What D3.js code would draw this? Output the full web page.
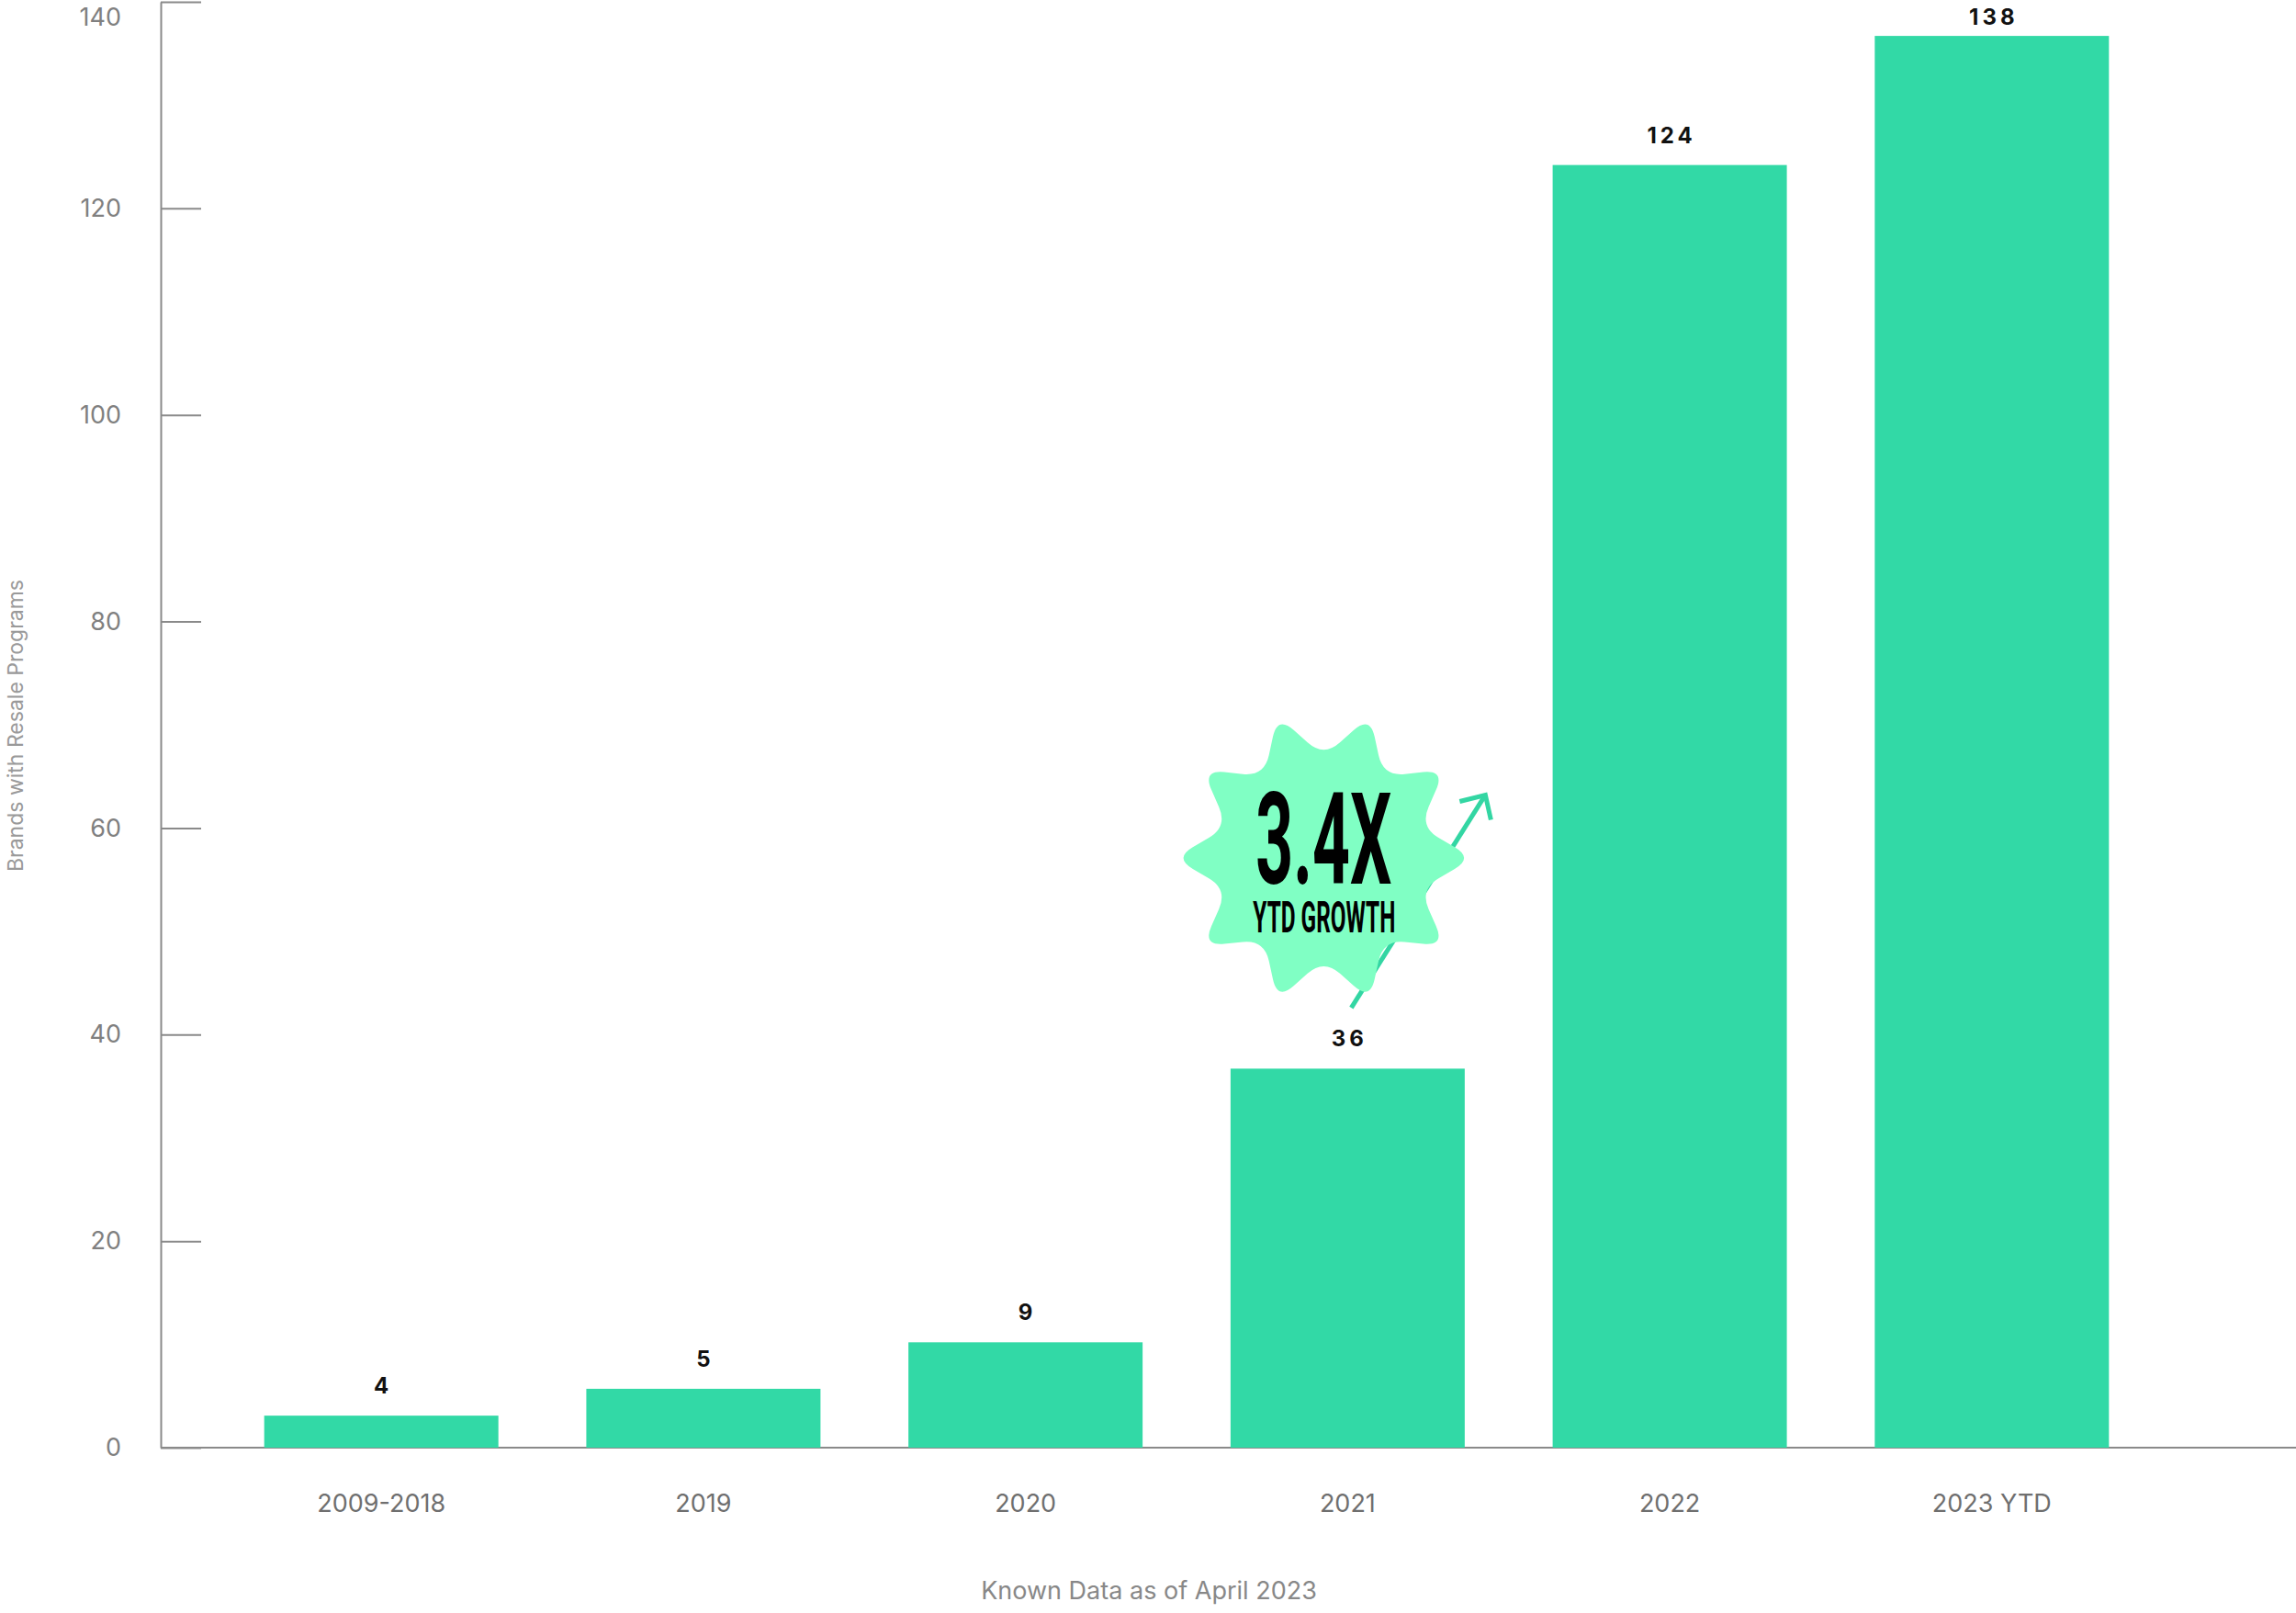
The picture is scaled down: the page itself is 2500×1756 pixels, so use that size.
<!DOCTYPE html>
<html>
<head>
<meta charset="utf-8">
<script src="https://d3js.org/d3.v7.min.js"></script>
<style>
	body { margin: 0; background: #fff; }
	.chart text { font-family: Inter, "Noto Sans", sans-serif; }
</style>
</head>
<body>
<div class="chart"></div>
<script>
var WIDTH = 2500,
	HEIGHT = 1756;

// categories and values
var categories = ["2009-2018", "2019", "2020", "2021", "2022", "2023 YTD"];
var valueLabels = ["4", "5", "9", "36", "124", "138"];
// bar heights as drawn in the picture (they differ slightly from the labels)
var barHeights = [3.1, 5.7, 10.2, 36.7, 124.2, 136.7];
var yTicks = [0, 20, 40, 60, 80, 100, 120, 140];

var BAR_COLOR = "#32d9a6",
	BADGE_COLOR = "#80ffc4",
	AXIS_COLOR = "#8a8a8a";

var xScale, yScale, svg;

var generateAxes = function() {
	xScale = d3.scaleBand()
		.domain(categories)
		.range([200, 2384])
		.paddingInner(0.273)
		.paddingOuter(0.25);

	yScale = d3.scaleLinear()
		.domain([0, 140])
		.range([1576, 2]);

	var yAxis = d3.axisLeft()
		.scale(yScale)
		.tickValues(yTicks)
		.tickSizeInner(-44)
		.tickSizeOuter(0)
		.tickPadding(43);

	var yAxisGroup = svg.append("g")
		.attr("class", "yAxis")
		.attr("transform", "translate(175,0)")
		.call(yAxis);

	yAxisGroup.selectAll("path, line")
		.attr("stroke", AXIS_COLOR)
		.attr("stroke-width", 2);
	yAxisGroup.selectAll("text")
		.attr("fill", "#808080")
		.style("font-size", "27px")
		.attr("dy", function(d) { return yScale(d) < 20 ? "0.95em" : "0.32em"; });

	var xAxis = d3.axisBottom()
		.scale(xScale)
		.tickSize(0)
		.tickPadding(51);

	var xAxisGroup = svg.append("g")
		.attr("class", "xAxis")
		.attr("transform", "translate(0," + yScale(0) + ")")
		.call(xAxis);

	xAxisGroup.select(".domain").remove();
	xAxisGroup.selectAll("text")
		.attr("fill", "#6f6f6f")
		.style("font-size", "27px");

	// baseline runs from the y axis to the right edge
	svg.append("line")
		.attr("x1", 175)
		.attr("x2", WIDTH)
		.attr("y1", yScale(0))
		.attr("y2", yScale(0))
		.attr("stroke", AXIS_COLOR)
		.attr("stroke-width", 2);

	svg.append("text")
		.attr("transform", "translate(25,790) rotate(-90)")
		.attr("text-anchor", "middle")
		.attr("fill", "#9a9a9a")
		.style("font-size", "23px")
		.text("Brands with Resale Programs");

	svg.append("text")
		.attr("x", 1251)
		.attr("y", 1741)
		.attr("text-anchor", "middle")
		.attr("fill", "#888888")
		.style("font-size", "27px")
		.text("Known Data as of April 2023");
}

var generateBars = function() {
	var bars = svg.append("g").attr("class", "bars");

	bars.selectAll("rect")
		.data(categories)
		.enter()
		.append("rect")
		.attr("x", function(d) { return xScale(d); })
		.attr("y", function(d, i) { return yScale(barHeights[i]); })
		.attr("width", xScale.bandwidth())
		.attr("height", function(d, i) { return yScale(0) - yScale(barHeights[i]); })
		.attr("fill", BAR_COLOR);

	// value labels, kept inside the top edge for the tallest bar
	bars.selectAll("text")
		.data(categories)
		.enter()
		.append("text")
		.attr("x", function(d) { return xScale(d) + xScale.bandwidth() / 2 + 2; })
		.attr("y", function(d, i) { return Math.max(yScale(barHeights[i]) - 24, 27); })
		.attr("text-anchor", "middle")
		.attr("fill", "#111")
		.style("font-size", "24px")
		.style("font-weight", 700)
		.style("letter-spacing", "4px")
		.text(function(d, i) { return valueLabels[i]; });

	// axis line sits on top of the bars
	svg.select(".yAxis").raise();
}

// star polygon with rounded corners
var roundedStar = function(points, rOuter, rInner, t) {
	var v = [];
	for (var i = 0; i < points * 2; i++) {
		var a = i * Math.PI / points;
		var r = i % 2 ? rOuter : rInner;
		v.push([r * Math.sin(a), -r * Math.cos(a)]);
	}
	var p = d3.path();
	var n = v.length;
	for (var j = 0; j < n; j++) {
		var prev = v[(j - 1 + n) % n], cur = v[j], next = v[(j + 1) % n];
		var ax = cur[0] + (prev[0] - cur[0]) * t, ay = cur[1] + (prev[1] - cur[1]) * t;
		var bx = cur[0] + (next[0] - cur[0]) * t, by = cur[1] + (next[1] - cur[1]) * t;
		if (j === 0) p.moveTo(ax, ay); else p.lineTo(ax, ay);
		p.quadraticCurveTo(cur[0], cur[1], bx, by);
	}
	p.closePath();
	return p.toString();
}

var generateBadge = function() {
	var cx = xScale("2021") + xScale.bandwidth() / 2;
	var g = svg.append("g").attr("class", "badge");

	// arrow behind the badge
	var arrow = g.append("g")
		.attr("stroke", "#33d6a3")
		.attr("stroke-width", 5)
		.attr("fill", "none");
	var x0 = cx + 4, y0 = yScale(42.6),
		x1 = cx + 150, y1 = yScale(63.2);
	arrow.append("line")
		.attr("x1", x0).attr("y1", y0)
		.attr("x2", x1).attr("y2", y1);
	arrow.append("path")
		.attr("d", "M" + (x1 - 28) + "," + (y1 + 7) + "L" + x1 + "," + y1 + "L" + (x1 + 6) + "," + (y1 + 27));

	var bx = cx - 26, by = yScale(57.1);
	g.append("path")
		.attr("transform", "translate(" + bx + "," + by + ")")
		.attr("d", roundedStar(10, 163, 110, 0.35))
		.attr("fill", BADGE_COLOR);

	g.append("text")
		.attr("x", bx - 74)
		.attr("y", by + 28)
		.attr("textLength", 148)
		.attr("lengthAdjust", "spacingAndGlyphs")
		.attr("fill", "#000")
		.style("font-family", "Roboto, sans-serif")
		.style("font-size", "140px")
		.style("font-weight", 700)
		.text("3.4X");

	g.append("text")
		.attr("x", bx - 77)
		.attr("y", by + 81)
		.attr("textLength", 155)
		.attr("lengthAdjust", "spacingAndGlyphs")
		.attr("fill", "#000")
		.style("font-family", "Roboto, sans-serif")
		.style("font-size", "49px")
		.style("font-weight", 700)
		.text("YTD GROWTH");
}

var generateChart = function() {
	svg = d3.select(".chart").append("svg")
		.attr("width", WIDTH)
		.attr("height", HEIGHT);

	generateAxes();
	generateBars();
	generateBadge();
}

window.onload = function() {
	generateChart();
}
</script>
</body>
</html>
